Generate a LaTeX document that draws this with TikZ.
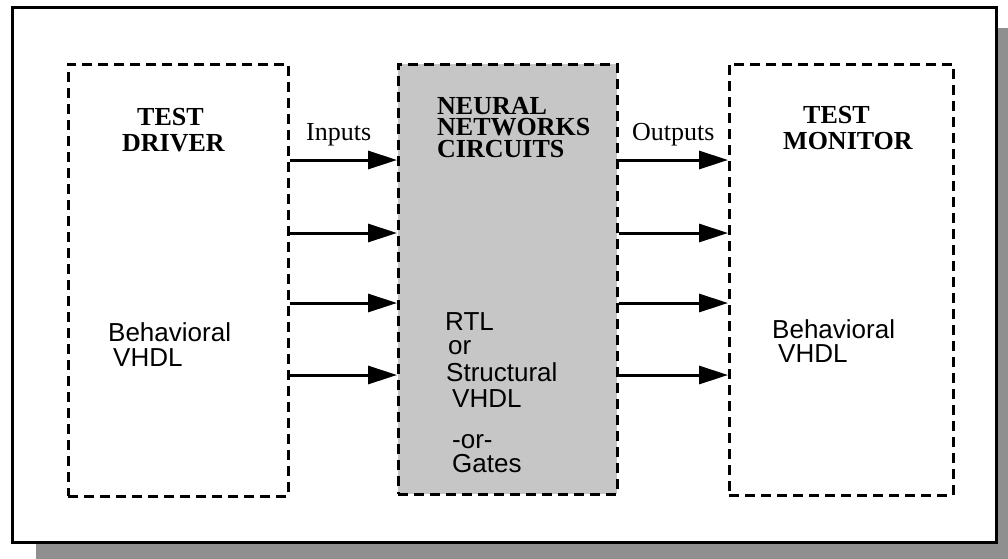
\documentclass[tikz,border=0pt]{standalone}
\usepackage{fontspec}
\setmainfont{Liberation Serif}
\newfontfamily\hel{Liberation Sans}
\usetikzlibrary{arrows.meta}
\definecolor{shadowgray}{HTML}{8F8F8F}
\definecolor{boxgray}{HTML}{C6C6C6}
\tikzset{
  dashbox/.style={draw=black, line width=2.5pt, dash pattern=on 10pt off 6pt,
    inner sep=0pt, anchor=north west},
  sig/.style={line width=3pt, -{Triangle[length=29pt,width=18pt]}},
  title/.style={font=\fontsize{26}{21.5}\selectfont\bfseries, inner sep=0pt,
    anchor=base west, align=left},
  lbl/.style={font=\fontsize{26}{26}\selectfont, inner sep=0pt, anchor=base west},
  body/.style={font=\hel\fontsize{26}{26}\selectfont, inner sep=0pt, anchor=base west}
}
\begin{document}
\begin{tikzpicture}[x=1pt,y=-1pt]
\useasboundingbox (0,0) rectangle (1008,558);
\clip (0,0) rectangle (1008,558);
% drop shadow and outer frame
\fill[shadowgray] (36,28) rectangle (1030,580);
\draw[line width=3pt, fill=white] (12,7) rectangle (996,542);

% the three blocks
\node[dashbox, minimum width=220pt, minimum height=432pt] (drv) at (67,63) {};
\node[dashbox, fill=boxgray, minimum width=219pt, minimum height=430pt] (nn) at (397,63) {};
\node[dashbox, minimum width=224pt, minimum height=431pt] (mon) at (728,63) {};

% test driver text
\node[title] (t1) at (137,125) {TEST};
\node[title] (t2) at (122,151) {DRIVER};
\node[body] (b1) at (108,341) {Behavioral};
\node[body] (b2) at (113,366) {VHDL};

% circuit block text
\node[title, anchor=north west] (n1) at (437,97) {NEURAL\\NETWORKS\\CIRCUITS};
\node[body] (c1) at (445,330) {RTL};
\node[body] (c2) at (448,354) {or};
\node[body] (c3) at (446,381) {Structural};
\node[body] (c4) at (452,407) {VHDL};
\node[body] (c5) at (452,448) {-or-};
\node[body] (c6) at (452,472) {Gates};

% test monitor text
\node[title] (m1) at (803,123) {TEST};
\node[title] (m2) at (783,149) {MONITOR};
\node[body] (mb1) at (772,338) {Behavioral};
\node[body] (mb2) at (778,362) {VHDL};

% signal labels
\node[lbl] (in) at (306,140) {Inputs};
\node[lbl] (out) at (632,140) {Outputs};

% signal rows
\coordinate (r1) at (0,160);
\coordinate (r2) at (0,233);
\coordinate (r3) at (0,303);
\coordinate (r4) at (0,375);
\foreach \r in {r1,r2,r3,r4}{
  \draw[sig] (drv.east |- \r) -- (nn.west |- \r);
  \draw[sig] (nn.east |- \r) -- (mon.west |- \r);
}
\end{tikzpicture}
\end{document}
